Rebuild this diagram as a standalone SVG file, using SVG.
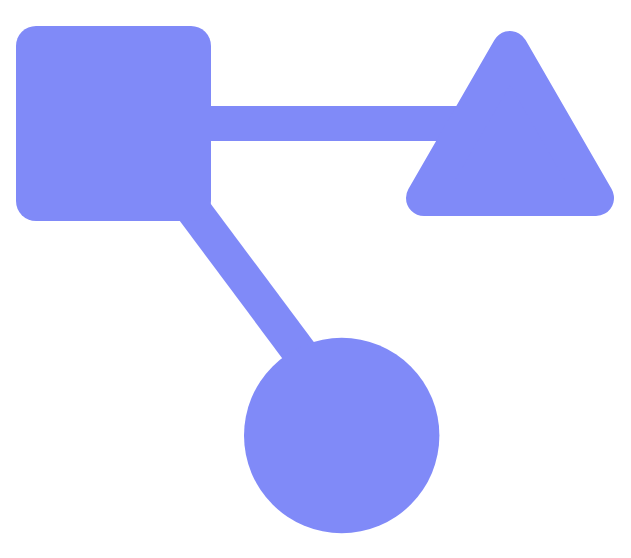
<svg xmlns="http://www.w3.org/2000/svg" width="631" height="558" viewBox="0 0 631 558">
<style>
.s{fill:#808AF8}
.c{stroke:#808AF8;stroke-width:35;fill:none;stroke-linecap:butt}
</style>
<rect width="631" height="558" fill="#FFFFFF"/>
<g id="connectors">
<line class="c" x1="200" y1="123.5" x2="480" y2="123.5"/>
<line class="c" x1="171.1" y1="180" x2="320.3" y2="380"/>
</g>
<g id="square"><rect class="s" x="16" y="26" width="195" height="195" rx="20" ry="20"/></g>
<g id="triangle"><polygon class="s" points="510,49 596,198 424,198" stroke="#808AF8" stroke-width="36" stroke-linejoin="round"/></g>
<g id="circle"><circle class="s" cx="341.7" cy="435.5" r="97.7"/></g>
</svg>
